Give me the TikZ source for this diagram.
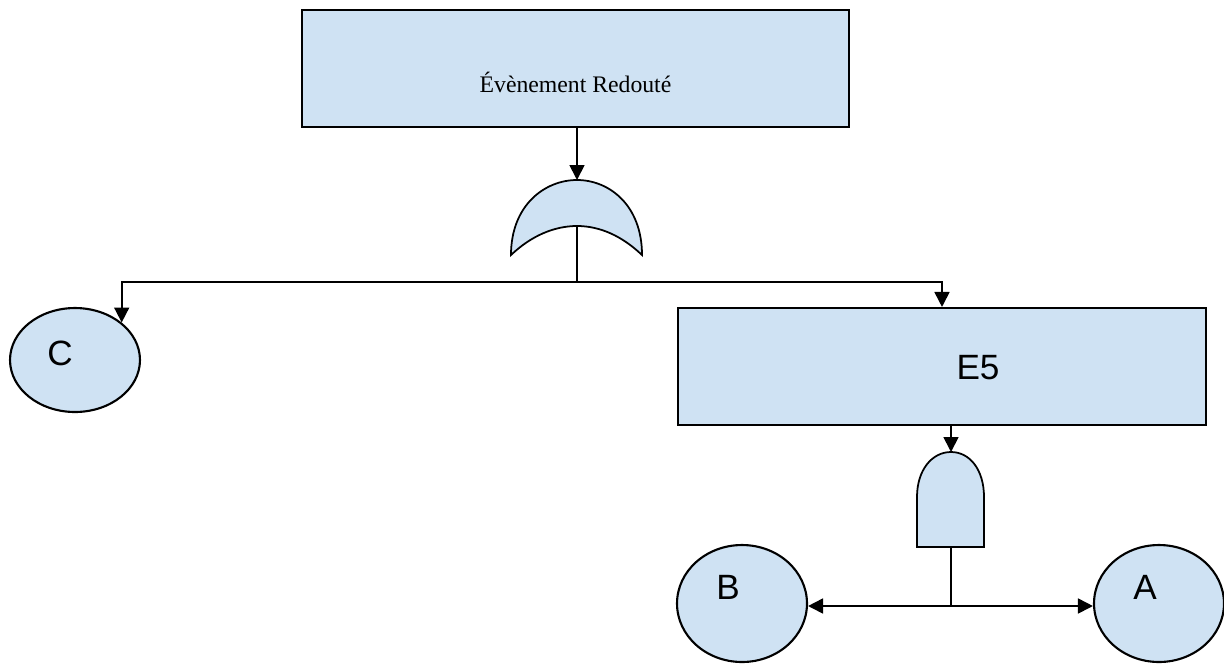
\documentclass[tikz,border=0pt]{standalone}
\usepackage{fontspec}
\setmainfont{Liberation Serif}
\newfontfamily\arialfont{Liberation Sans}
\usetikzlibrary{arrows.meta,shapes.geometric}

\definecolor{evtblue}{RGB}{207,226,243}

\begin{document}
\begin{tikzpicture}[x=0.02cm,y=-0.02cm,line width=1pt]
\useasboundingbox (0,0) rectangle (1224,664);

\begin{scope}[every node/.style={draw,line width=1.2pt,fill=evtblue,inner sep=0pt}]
	\node[rectangle,minimum width=10.94cm,minimum height=2.34cm,
	 label={[draw=none,fill=none,yshift=-0.27cm]center:\fontsize{13.5}{16}\selectfont Évènement Redouté}] (top) at (575.5,68.5) {};
	\node[rectangle,minimum width=10.56cm,minimum height=2.34cm,
	 label={[draw=none,fill=none,xshift=0.72cm,yshift=-0.03cm]center:\arialfont\fontsize{20}{24}\selectfont E5}] (E5) at (942,366.5) {};

	\node[ellipse,minimum width=2.6cm,minimum height=2.08cm,
	 label={[draw=none,fill=none,xshift=-0.3cm,yshift=0.14cm]center:\arialfont\fontsize{20}{24}\selectfont C}] (C) at (75,360) {};
	\node[ellipse,minimum width=2.6cm,minimum height=2.34cm,
	 label={[draw=none,fill=none,xshift=-0.28cm,yshift=0.32cm]center:\arialfont\fontsize{20}{24}\selectfont B}] (B) at (742,603.5) {};
	\node[ellipse,minimum width=2.6cm,minimum height=2.34cm,
	 label={[draw=none,fill=none,xshift=-0.28cm,yshift=0.32cm]center:\arialfont\fontsize{20}{24}\selectfont A}] (A) at (1159,603.5) {};
\end{scope}

% portes logiques
\begin{scope}[fill=evtblue]
	% porte OU
	\filldraw (511,255) .. controls (511,205) and (545,180) .. (577,180)
	 .. controls (609,180) and (642,205) .. (642,255)
	 .. controls (622,236) and (600,226) .. (577,226)
	 .. controls (554,226) and (531,236) .. (511,255) -- cycle;
	\coordinate (ortop) at (577,180);
	\coordinate (orout) at (577,226);
	% porte ET
	\filldraw (917,547) -- (917,497) .. controls (917,470) and (932,452) .. (951,452)
	 .. controls (970,452) and (984,470) .. (984,497) -- (984,547) -- cycle;
	\coordinate (andtop) at (951,452);
	\coordinate (andout) at (951,547);
\end{scope}

\coordinate (orsplit) at (577,282);
\coordinate (andsplit) at (951,606);

\begin{scope}[-{Triangle[length=3mm,width=3mm]}]
	\draw (ortop |- top.south) -- (ortop);
	\draw (orout) -- (orsplit) -| (C.north east);
	\draw (orsplit) -| (E5.north);
	\draw (andtop |- E5.south) -- (andtop);
	\draw[-] (andout) -- (andsplit);
	\draw (andsplit) -- (B.east |- andsplit);
	\draw (andsplit) -- (A.west |- andsplit);
\end{scope}

\end{tikzpicture}
\end{document}
